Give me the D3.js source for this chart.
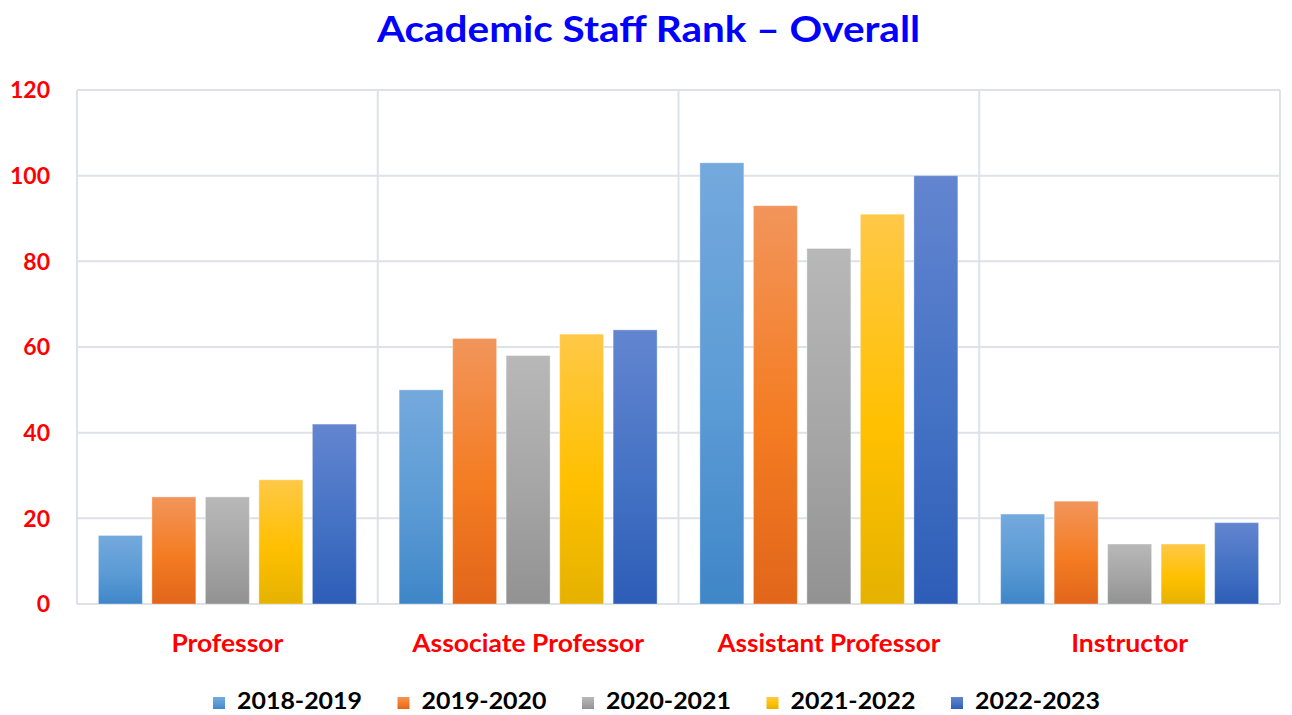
<!DOCTYPE html>
<html>
<head>
<meta charset="utf-8">
<script src="https://cdn.jsdelivr.net/npm/d3@7"></script>
<style>
  html, body { margin: 0; padding: 0; background: #ffffff; }
  svg { display: block; }
  text { font-family: Lato, "Open Sans", sans-serif; font-weight: 700; }
</style>
</head>
<body>
<svg id="chart" width="1292" height="715"></svg>
<script>
// ---- data ----
const categories = ["Professor", "Associate Professor", "Assistant Professor", "Instructor"];
const seriesNames = ["2018-2019", "2019-2020", "2020-2021", "2021-2022", "2022-2023"];
const s2018 = [16, 50, 103, 21];
const s2019 = [25, 62, 93, 24];
const s2020 = [25, 58, 83, 14];
const s2021 = [29, 63, 91, 14];
const s2022 = [42, 64, 100, 19];
const yTicks = [0, 20, 40, 60, 80, 100, 120];
const titleText = "Academic Staff Rank \u2013 Overall";

// ---- styles ----
const gradStops = [
  ["#74a9dd", "#5b9bd5", "#3f86c8"],
  ["#f2955b", "#f47c22", "#e1661b"],
  ["#b8b8b8", "#a5a5a5", "#929292"],
  ["#ffc847", "#ffc000", "#e5b200"],
  ["#6385d0", "#4472c4", "#2e5db8"]
];
const swatchColors = ["#5b9bd5", "#ed7d31", "#a5a5a5", "#ffc000", "#4472c4"];
const gridColor = "#dde1e8";

const allSeries = [s2018, s2019, s2020, s2021, s2022];

const svg = d3.select("#chart");
const margin = { left: 77, right: 12, top: 90, bottom: 111 };
const W = 1292, H = 715;
const x0 = margin.left, x1 = W - margin.right;
const yTop = margin.top, yBot = H - margin.bottom;

const defs = svg.append("defs");
gradStops.forEach((st, i) => {
  const g = defs.append("linearGradient").attr("id", "g" + i)
    .attr("x1", 0).attr("y1", 0).attr("x2", 0).attr("y2", 1);
  g.append("stop").attr("offset", "0%").attr("stop-color", st[0]);
  g.append("stop").attr("offset", "55%").attr("stop-color", st[1]);
  g.append("stop").attr("offset", "100%").attr("stop-color", st[2]);
});

const xScale = d3.scaleBand().domain(categories).range([x0, x1]).padding(0);
const xInner = d3.scaleBand().domain(seriesNames).range([0, xScale.bandwidth()])
  .paddingInner(0.178).paddingOuter(0.40);
const yScale = d3.scaleLinear().domain([0, 120]).range([yBot, yTop]);

// fit helper
function fit(sel, w) {
  sel.each(function () {
    const n = this.getComputedTextLength();
    if (n > 0) d3.select(this).attr("textLength", w).attr("lengthAdjust", "spacingAndGlyphs");
  });
}

// gridlines
const grid = svg.append("g");
grid.selectAll("line.h").data(yTicks).join("line")
  .attr("x1", x0).attr("x2", x1)
  .attr("y1", d => yScale(d)).attr("y2", d => yScale(d))
  .attr("stroke", gridColor).attr("stroke-width", 2);
const bounds = categories.map(c => xScale(c)).concat([x1]);
grid.selectAll("line.v").data(bounds).join("line")
  .attr("x1", d => d).attr("x2", d => d)
  .attr("y1", yTop).attr("y2", yBot)
  .attr("stroke", gridColor).attr("stroke-width", 2);

// y axis labels
const yAxis = d3.axisLeft(yScale).tickValues(yTicks).tickSize(0).tickPadding(0);
const yg = svg.append("g").attr("transform", `translate(${50},0)`).call(yAxis);
yg.select(".domain").remove();
yg.selectAll("text")
  .attr("fill", "#ff0000").attr("font-size", 23)
  .attr("font-family", "Lato, sans-serif").attr("font-weight", 700)
  .attr("dy", "0.34em");

// bars
const barData = [];
categories.forEach((c, ci) => {
  allSeries.forEach((s, si) => barData.push({ c, s: seriesNames[si], si, v: s[ci] }));
});
svg.append("g").selectAll("rect").data(barData).join("rect")
  .attr("x", d => xScale(d.c) + xInner(d.s))
  .attr("width", xInner.bandwidth())
  .attr("y", d => yScale(d.v))
  .attr("height", d => yBot - yScale(d.v))
  .attr("fill", d => `url(#g${d.si})`)
  .attr("stroke", "rgba(255,255,255,0.35)").attr("stroke-width", 1);

// x axis labels
const xAxis = d3.axisBottom(xScale).tickSize(0).tickPadding(0);
const xg = svg.append("g").attr("transform", `translate(0,${652})`).call(xAxis);
xg.select(".domain").remove();
xg.selectAll("text")
  .attr("fill", "#ff0000").attr("font-size", 24)
  .attr("font-family", "Lato, sans-serif").attr("font-weight", 700)
  .attr("dy", 0).attr("y", 0);
const catWidths = [112, 232, 223, 117];
xg.selectAll("text").each(function (d, i) { fit(d3.select(this), catWidths[i]); });

// title
svg.append("text").attr("x", 377).attr("y", 42)
  .attr("fill", "#0000ff").attr("font-size", 36)
  .text(titleText).call(fit, 543);

// legend
const lg = svg.append("g");
const items = lg.selectAll("g").data(seriesNames).join("g")
  .attr("transform", (d, i) => `translate(${213 + i * 184.5},0)`);
items.append("rect").attr("x", 0).attr("y", 697).attr("width", 12).attr("height", 12)
  .attr("fill", (d, i) => `url(#g${i})`);
items.append("text").attr("x", 24).attr("y", 709)
  .attr("fill", "#000").attr("font-size", 22)
  .text(d => d).call(fit, 125);
</script>
</body>
</html>
